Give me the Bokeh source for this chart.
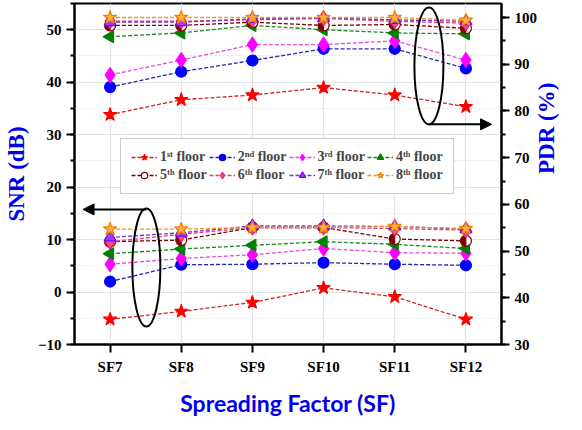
import math
from bokeh.plotting import figure
from bokeh.models import (Range1d, LinearAxis, FixedTicker, SingleIntervalTicker,
                          Legend, LegendItem, Arrow, NormalHead)
from bokeh.embed import file_html
from bokeh.resources import INLINE

# ---------------- data ----------------
sf_labels = ["SF7", "SF8", "SF9", "SF10", "SF11", "SF12"]
sf_x = [7, 8, 9, 10, 11, 12]

floor_names = ["1\u02e2\u1d57 floor", "2\u207f\u1d48 floor", "3\u02b3\u1d48 floor", "4\u1d57\u02b0 floor",
               "5\u1d57\u02b0 floor", "6\u1d57\u02b0 floor", "7\u1d57\u02b0 floor", "8\u1d57\u02b0 floor"]

# SNR (dB), left axis
snr_1 = [-5.2, -3.7, -2.0, 0.8, -0.9, -5.2]
snr_2 = [2.0, 5.2, 5.3, 5.6, 5.3, 5.1]
snr_3 = [5.3, 6.4, 7.1, 8.3, 7.5, 7.4]
snr_4 = [7.3, 8.2, 8.9, 9.6, 9.1, 8.3]
snr_5 = [9.6, 9.9, 12.3, 12.3, 10.1, 9.75]
snr_6 = [9.6, 11.0, 12.3, 12.3, 12.1, 11.8]
snr_7 = [10.4, 11.3, 12.6, 12.6, 12.5, 12.0]
snr_8 = [12.0, 12.0, 12.3, 12.3, 12.5, 12.1]

# PDR (%), right axis
pdr_1 = [79.2, 82.4, 83.4, 85.0, 83.4, 80.9]
pdr_2 = [85.1, 88.4, 90.8, 93.3, 93.3, 89.1]
pdr_3 = [87.7, 90.9, 94.2, 94.2, 95.0, 90.9]
pdr_4 = [95.9, 96.7, 98.3, 97.4, 96.7, 96.5]
pdr_5 = [98.3, 98.3, 99.0, 98.3, 98.5, 97.7]
pdr_6 = [99.2, 99.2, 99.5, 99.8, 99.2, 98.8]
pdr_7 = [99.0, 99.0, 99.7, 99.9, 99.5, 99.2]
pdr_8 = [100.0, 100.0, 100.0, 100.0, 100.0, 99.4]

snr_series = [snr_1, snr_2, snr_3, snr_4, snr_5, snr_6, snr_7, snr_8]
pdr_series = [pdr_1, pdr_2, pdr_3, pdr_4, pdr_5, pdr_6, pdr_7, pdr_8]

# ---------------- styles ----------------
styles = [
    dict(line="#C82828", marker="star", fill="#FF0000", edge="#FF0000", size=14, angle=0),
    dict(line="#2828A8", marker="circle", fill="#0000FF", edge="#0000FF", size=11, angle=0),
    dict(line="#E050E0", marker="diamond", fill="#FF00FF", edge="#FF00FF", size=15, angle=0),
    dict(line="#1A881A", marker="triangle", fill="#008000", edge="#008000", size=12, angle=math.pi / 2),
    dict(line="#800000", marker="circle", fill="#FFFFFF", edge="#800000", size=11, angle=0),
    dict(line="#E0407A", marker="diamond", fill="#F0508A", edge="#E8206A", size=15, angle=0),
    dict(line="#7A30D0", marker="triangle", fill="#9A40F0", edge="#8000FF", size=12, angle=0),
    dict(line="#E89A30", marker="star", fill="#FFB040", edge="#F08000", size=14, angle=0),
]

BLUE = "#0000F0"
SERIF = "Liberation Serif"

p = figure(frame_width=427, frame_height=341,
           x_range=Range1d(6.5, 12.5), y_range=Range1d(-10, 55),
           output_backend="svg", toolbar_location=None,
           min_border_left=68, min_border_right=71, min_border_top=3, min_border_bottom=60)
p.extra_y_ranges = {"pdr": Range1d(30, 103)}

items = []
for i in range(8):
    st = styles[i]
    rs = []
    for ys, rname in ((pdr_series[i], "pdr"), (snr_series[i], "default")):
        ln = p.line(sf_x, ys, y_range_name=rname, line_color=st["line"], line_width=1.3,
                    line_dash="4 2")
        sc = p.scatter(sf_x, ys, y_range_name=rname, marker=st["marker"], size=st["size"],
                       angle=st["angle"], fill_color=st["fill"], line_color=st["edge"],
                       line_width=1.2)
        if i == 4:
            p.wedge(sf_x, ys, y_range_name=rname, radius=5, radius_units="screen",
                    start_angle=math.pi / 2, end_angle=3 * math.pi / 2,
                    fill_color="#800000", line_color="#800000")
        if not rs:
            rs = [ln, sc]
    items.append(LegendItem(label=floor_names[i], renderers=rs))

# ---------------- axes ----------------
p.xaxis.ticker = FixedTicker(ticks=sf_x)
p.xaxis.major_label_overrides = {x: lab for x, lab in zip(sf_x, sf_labels)}
p.xaxis.axis_label = "Spreading Factor (SF)"
p.xaxis.axis_label_text_font = "Lato"
p.xaxis.axis_label_text_font_style = "bold"
p.xaxis.axis_label_text_font_size = "23px"
p.xaxis.axis_label_text_color = BLUE
p.xaxis.axis_label_standoff = 11
p.xaxis.major_label_standoff = 6

p.yaxis.ticker = SingleIntervalTicker(interval=10, num_minor_ticks=2)
p.yaxis.axis_label = "SNR (dB)"

right = LinearAxis(y_range_name="pdr", axis_label="PDR (%)",
                   ticker=SingleIntervalTicker(interval=10, num_minor_ticks=2))
p.add_layout(right, "right")
try:
    right.axis_label_orientation = math.pi / 2
except Exception:
    pass

for ax in [p.xaxis[0], p.yaxis[0], right]:
    ax.axis_line_width = 2
    ax.axis_line_color = "black"
    ax.major_tick_line_width = 2
    ax.minor_tick_line_width = 2
    ax.major_tick_in = 0
    ax.major_tick_out = 8
    ax.minor_tick_in = 0
    ax.minor_tick_out = 4
    ax.major_label_text_font = SERIF
    ax.major_label_text_font_style = "bold"
    ax.major_label_text_font_size = "15px"
    ax.major_label_text_color = "black"
p.xaxis.minor_tick_out = 0

for ax in [p.yaxis[0], right]:
    ax.axis_label_text_font = SERIF
    ax.axis_label_text_font_style = "bold"
    ax.axis_label_text_font_size = "23px"
    ax.axis_label_text_color = BLUE
    ax.major_label_standoff = 5
    ax.axis_label_standoff = 6

p.outline_line_color = "black"
p.outline_line_width = 2
p.outline_line_alpha = 1

# ---------------- grids ----------------
p.xgrid.grid_line_color = "#E2E2E2"
p.xgrid.grid_line_width = 1.2
p.ygrid.grid_line_color = "#E2E2E2"
p.ygrid.grid_line_width = 1.2
p.ygrid.minor_grid_line_color = "#E2E2E2"
p.ygrid.minor_grid_line_dash = "2 2"

# ---------------- annotations ----------------
ell_pdr = dict(x=11.48, y=43.1, w=29, h=117)
ell_snr = dict(x=7.51, y=4.67, w=28, h=118)
for e in (ell_pdr, ell_snr):
    p.ellipse(x=[e["x"]], y=[e["y"]], width=e["w"], height=e["h"],
              width_units="screen", height_units="screen",
              fill_color=None, line_color="black", line_width=2)

p.add_layout(Arrow(end=NormalHead(size=11, fill_color="black", line_color="black"),
                   x_start=11.48, y_start=31.96, x_end=12.36, y_end=31.96,
                   line_width=2, line_color="black"))
p.add_layout(Arrow(end=NormalHead(size=11, fill_color="black", line_color="black"),
                   x_start=7.51, y_start=15.75, x_end=6.62, y_end=15.75,
                   line_width=2, line_color="black"))

# ---------------- legend ----------------
legend = Legend(items=items, location=(46, 150), orientation="horizontal", ncols=4,
                label_text_font=SERIF, label_text_font_style="bold",
                label_text_font_size="14px", glyph_width=26, glyph_height=16,
                label_standoff=3, spacing=2, padding=10, margin=0,
                border_line_color="#999999", border_line_width=1,
                background_fill_color="white", background_fill_alpha=1)
p.add_layout(legend, "center")

open("out.html", "w").write(file_html(p, INLINE))
